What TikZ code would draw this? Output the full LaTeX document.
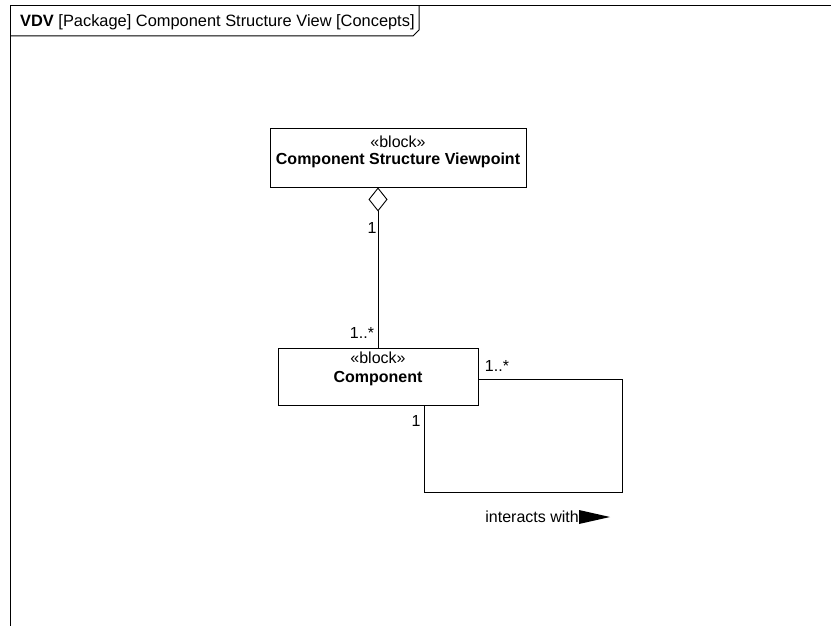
\documentclass[tikz,border=0pt]{standalone}
\usepackage{fontspec}
\setmainfont{Liberation Sans}
\usetikzlibrary{arrows.meta}
\begin{document}
\begin{tikzpicture}[x=1pt,y=-1pt,
  txt/.style={inner sep=0pt,font=\fontsize{16}{19}\selectfont},
  blockbox/.style={draw,line width=0.9pt,inner sep=0pt},
  conn/.style={line width=0.9pt},
  framel/.style={line width=1pt}]
\useasboundingbox (0,0) rectangle (831,626);
% frame
\coordinate (fbl) at (10,626);
\coordinate (ftl) at (10,6);
\coordinate (ftr) at (831,6);
\draw[framel] (fbl) -- (ftl) -- (ftr);
\draw[framel] (10,36) -- (413,36) -- (419,30) -- (419,6);
\node[txt,anchor=west,font=\fontsize{16.4}{19}\selectfont] (title) at (20,22) {\textbf{VDV} [Package] Component Structure View [Concepts]};
% blocks
\node[blockbox,minimum width=256pt,minimum height=59pt] (vp) at (398,157.5) {};
\node[txt] (vpst) at (398,142) {«block»};
\node[txt] (vpname) at (398,160) {\textbf{Component Structure Viewpoint}};
\node[blockbox,minimum width=200pt,minimum height=57pt] (comp) at (378,376.5) {};
\node[txt] (compst) at (378,358) {«block»};
\node[txt] (compname) at (378,379) {\textbf{Component}};
% aggregation
\draw[conn,{Diamond[open,length=24pt,width=19pt,line width=0.9pt]}-] (comp.north |- vp.south) -- (comp.north);
\node[txt] (m1) at (372,228) {1};
\node[txt] (m2) at (362,333) {1..*};
% self association
\coordinate (lc1) at (622,492);
\draw[conn] ([yshift=-2.5pt]comp.east) -| (lc1) -| ([xshift=46pt]comp.south);
\node[txt] (m3) at (497,366) {1..*};
\node[txt] (m4) at (416,421) {1};
\node[txt,anchor=east] (assoc) at (579,517) {interacts with};
\fill (assoc.east) ++(0,-7) -- ++(31,7) -- ++(-31,7) -- cycle;
\end{tikzpicture}
\end{document}
